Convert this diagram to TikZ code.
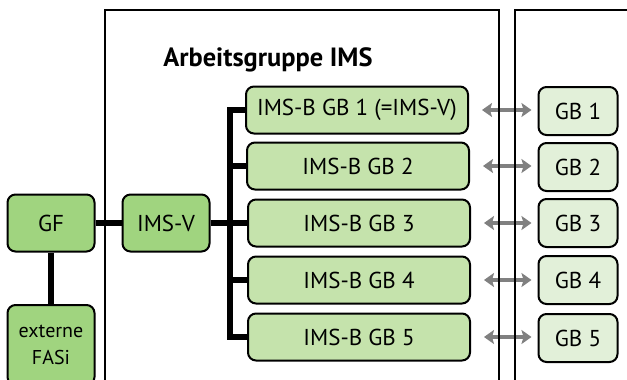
\documentclass[tikz,border=0pt]{standalone}
\usepackage{fontspec}
\setmainfont{PT Sans}
\usepackage[HTML]{xcolor}
\usetikzlibrary{positioning, arrows.meta}

\definecolor{gfgreen}{HTML}{A0D47F}
\definecolor{imsgreen}{HTML}{C5E3AC}
\definecolor{gbgreen}{HTML}{E2F0D9}

\tikzset{
  box/.style={draw=black, line width=1pt, rounded corners=4pt, align=center, inner sep=0pt, font=\fontsize{11.5}{13}\selectfont},
  topbox/.style={box, fill=gfgreen, minimum width=43.5pt, minimum height=28.5pt},
  imsbox/.style={box, fill=imsgreen, minimum width=111pt, minimum height=23.5pt},
  gbbox/.style={box, fill=gbgreen, minimum width=39.5pt, minimum height=24pt},
  bus/.style={line width=2.8pt},
  link/.style={draw=gray, line width=2pt, {Stealth[length=5pt,width=7pt,inset=1pt]}-{Stealth[length=5pt,width=7pt,inset=1pt]}},
  frame/.style={line width=1pt}
}

\begin{document}
\begin{tikzpicture}[x=0.5pt, y=-0.5pt]
\useasboundingbox (0,0) rectangle (627,380);

\node[font=\bfseries\fontsize{13.2}{15}\selectfont] (ag) at (268,60) {Arbeitsgruppe IMS};

% Leitung
\node[topbox] (gf) at (51,223) {GF};
\node[topbox, minimum height=40pt, font=\fontsize{10}{13.5}\selectfont] (fasi) at (51,345) {externe\\FASi};
\node[topbox] (imsv) at (166,223) {IMS-V};

% IMS-B
\node[imsbox] (b1) at (357,110) {IMS-B GB 1 (=IMS-V)};
\node[imsbox] (b2) at (358,166) {IMS-B GB 2};
\node[imsbox] (b3) at (359,223) {IMS-B GB 3};
\node[imsbox] (b4) at (359,280) {IMS-B GB 4};
\node[imsbox] (b5) at (359,337) {IMS-B GB 5};

% Geschaeftsbereiche
\node[gbbox] (g1) at (578,111) {GB 1};
\node[gbbox] (g2) at (578,167) {GB 2};
\node[gbbox] (g3) at (578,223) {GB 3};
\node[gbbox] (g4) at (578,280) {GB 4};
\node[gbbox] (g5) at (578,338) {GB 5};

\coordinate (bus) at (230,223);

\draw[bus] (gf) -- (imsv);
\draw[bus] (gf) -- (fasi);
\draw[bus] (imsv.east) -- (imsv.east -| bus);
\draw[bus] (b1.west) -- (b1.west -| bus) -- (b5.west -| bus) -- (b5.west);
\draw[bus] (b2.west -| bus) -- (b2.west);
\draw[bus] (b3.west -| bus) -- (b3.west);
\draw[bus] (b4.west -| bus) -- (b4.west);

\draw[link, shorten <=6.5pt, shorten >=3pt] (b1.east) -- (b1.east -| g1.west);
\draw[link, shorten <=6.5pt, shorten >=3pt] (b2.east) -- (b2.east -| g2.west);
\draw[link, shorten <=6.5pt, shorten >=3pt] (b3.east) -- (b3.east -| g3.west);
\draw[link, shorten <=6.5pt, shorten >=3pt] (b4.east) -- (b4.east -| g4.west);
\draw[link, shorten <=6.5pt, shorten >=3pt] (b5.east) -- (b5.east -| g5.west);

% Rahmen
\draw[frame] (105,395) -- (105,10) -- (499,10) -- (499,395);
\draw[frame] (515,395) -- (515,10) -- (640,10);

\end{tikzpicture}
\end{document}
